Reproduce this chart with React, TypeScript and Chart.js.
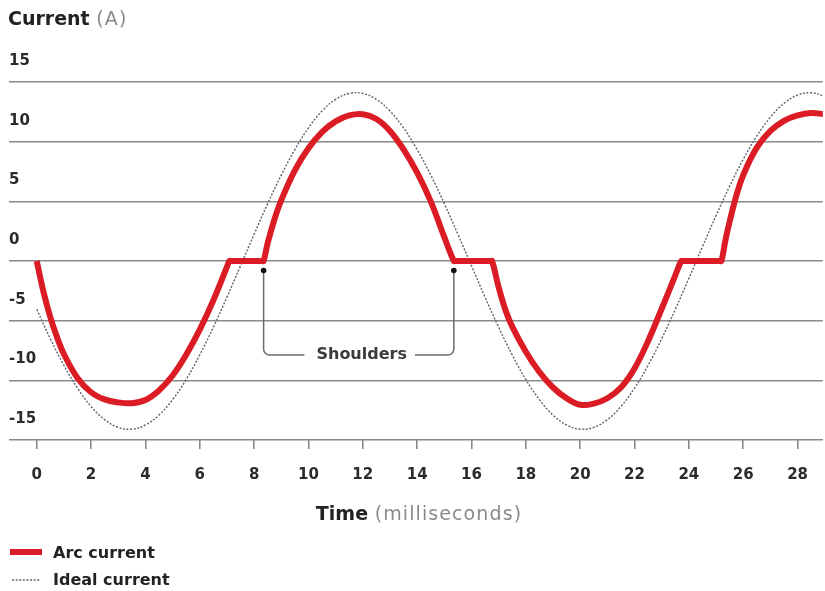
import React, { useEffect, useRef } from 'react';
import { Chart, registerables } from 'chart.js';

Chart.register(...registerables);

// ---------- data ----------
const X_TICKS = [0, 2, 4, 6, 8, 10, 12, 14, 16, 18, 20, 22, 24, 26, 28];
const Y_TICKS = [-15, -10, -5, 0, 5, 10, 15];

// Arc current (A) vs time (ms)
const ARC_T = [
  0, 0.25, 0.5, 0.75, 1.0, 1.5, 2.0, 2.5, 3.0, 3.5, 4.0, 4.5, 5.0, 5.5, 6.0, 6.5, 7.0, 7.09, 7.15,
  8.29, 8.35, 8.5, 8.75, 9.0, 9.5, 10.0, 10.5, 11.0, 11.5, 12.0, 12.5, 13.0, 13.5, 14.0, 14.5, 15.0, 15.35, 15.41,
  16.7, 16.76, 17.0, 17.25, 17.5, 18.0, 18.5, 19.0, 19.5, 20.0, 20.5, 21.0, 21.5, 22.0, 22.5, 23.0, 23.5, 23.72, 23.78,
  25.14, 25.2, 25.35, 25.5, 25.75, 26.0, 26.5, 27.0, 27.5, 28.0, 28.5, 29.0,
];
const ARC_I = [
  0, -2.6, -4.7, -6.4, -7.8, -9.8, -11.0, -11.6, -11.85, -11.92, -11.65, -10.85, -9.6, -7.85, -5.75, -3.3, -0.5, 0, 0,
  0, 0, 1.5, 3.5, 5.1, 7.6, 9.45, 10.8, 11.7, 12.2, 12.3, 11.9, 10.9, 9.35, 7.4, 5.0, 2.0, 0, 0,
  0, 0, -2.2, -4.1, -5.5, -7.6, -9.3, -10.6, -11.5, -12.05, -11.95, -11.5, -10.6, -9.0, -6.7, -4.0, -1.2, 0, 0,
  0, 0, 1.8, 3.3, 5.5, 7.2, 9.5, 10.9, 11.75, 12.2, 12.4, 12.3,
];

// Ideal current (A) vs time (ms)
const IDEAL_T = [
  0, 0.5, 1, 1.5, 2, 2.5, 3, 3.5, 4, 4.5, 5, 5.5, 6, 6.5, 7, 7.5, 8, 8.5, 9, 9.5,
  10, 10.5, 11, 11.5, 12, 12.5, 13, 13.5, 14, 14.5, 15, 15.5, 16, 16.5, 17, 17.5, 18, 18.5, 19, 19.5,
  20, 20.5, 21, 21.5, 22, 22.5, 23, 23.5, 24, 24.5, 25, 25.5, 26, 26.5, 27, 27.5, 28, 28.5, 29,
];
const IDEAL_I = [
  -4.05, -6.51, -8.74, -10.65, -12.19, -13.3, -13.94, -14.09, -13.74, -12.91, -11.62, -9.93, -7.87, -5.55, -3.03, -0.4, 2.24, 4.81, 7.2, 9.34,
  11.15, 12.57, 13.54, 14.04, 14.04, 13.54, 12.57, 11.15, 9.34, 7.2, 4.81, 2.24, -0.4, -3.03, -5.55, -7.87, -9.93, -11.62, -12.91, -13.74,
  -14.09, -13.94, -13.3, -12.19, -10.65, -8.74, -6.51, -4.05, -1.46, 1.19, 3.8, 6.27, 8.52, 10.47, 12.05, 13.21, 13.9, 14.1, 13.8,
];

// Shoulder corners marked by the annotation (ms)
const SHOULDER_MARKS = [8.35, 15.35];

const SERIES_NAMES = ['Arc current', 'Ideal current'];
const TITLE_MAIN = 'Current';
const TITLE_UNIT = '(A)';
const XTITLE_MAIN = 'Time';
const XTITLE_UNIT = '(milliseconds)';
const ANNOTATION_TEXT = 'Shoulders';

// ---------- styles ----------
const FONT = '"DejaVu Sans", "Open Sans", sans-serif';
const RED = '#dc1c24';
const IDEAL_COLOR = '#5e6370';
const GRID = '#8a8a8a';
const TEXT_DARK = '#222222';
const TEXT_GRAY = '#8a8a8a';

const overlayPlugin = {
  id: 'overlayText',
  afterDatasetsDraw(chart: any) {
    const { ctx, scales } = chart;
    const xs = scales.x;
    const ys = scales.y;
    const xa = xs.getPixelForValue(SHOULDER_MARKS[0]);
    const xb = xs.getPixelForValue(SHOULDER_MARKS[1]);
    const zero = ys.getPixelForValue(0);
    const dotY = zero + 9.5;
    const lineY = zero + 94;
    const r = 6;

    ctx.save();
    ctx.font = `bold 16px ${FONT}`;
    const tw = ctx.measureText(ANNOTATION_TEXT).width;
    const cx = (xa + xb) / 2 + 3;
    const tl = cx - tw / 2;
    const tr = cx + tw / 2;

    ctx.strokeStyle = '#6a6a6a';
    ctx.lineWidth = 1.5;
    ctx.beginPath();
    ctx.moveTo(xa, dotY);
    ctx.lineTo(xa, lineY - r);
    ctx.arcTo(xa, lineY, xa + r, lineY, r);
    ctx.lineTo(tl - 12, lineY);
    ctx.moveTo(xb, dotY);
    ctx.lineTo(xb, lineY - r);
    ctx.arcTo(xb, lineY, xb - r, lineY, r);
    ctx.lineTo(tr + 8, lineY);
    ctx.stroke();

    ctx.fillStyle = '#111111';
    [xa, xb].forEach((px) => {
      ctx.beginPath();
      ctx.arc(px, dotY, 2.8, 0, Math.PI * 2);
      ctx.fill();
    });

    ctx.fillStyle = '#3a3a3a';
    ctx.textBaseline = 'middle';
    ctx.textAlign = 'left';
    ctx.fillText(ANNOTATION_TEXT, tl, lineY);
    ctx.restore();
  },
  afterDraw(chart: any) {
    const { ctx } = chart;
    ctx.save();
    ctx.textBaseline = 'alphabetic';
    ctx.textAlign = 'left';

    const drawPair = (main: string, unit: string, x: number, y: number, center: boolean) => {
      ctx.font = `bold 19px ${FONT}`;
      (ctx as any).letterSpacing = '0px';
      const w1 = ctx.measureText(main + ' ').width;
      ctx.font = `19px ${FONT}`;
      (ctx as any).letterSpacing = '1.1px';
      const w2 = ctx.measureText(unit).width;
      const start = center ? x - (w1 + w2) / 2 : x;
      ctx.font = `bold 19px ${FONT}`;
      (ctx as any).letterSpacing = '0px';
      ctx.fillStyle = TEXT_DARK;
      ctx.fillText(main, start, y);
      ctx.font = `19px ${FONT}`;
      (ctx as any).letterSpacing = '1.1px';
      ctx.fillStyle = TEXT_GRAY;
      ctx.fillText(unit, start + w1, y);
      (ctx as any).letterSpacing = '0px';
    };

    drawPair(TITLE_MAIN, TITLE_UNIT, 8, 25, false);
    drawPair(XTITLE_MAIN, XTITLE_UNIT, 419, 520, true);

    // legend
    ctx.strokeStyle = RED;
    ctx.lineWidth = 6;
    ctx.lineCap = 'butt';
    ctx.beginPath();
    ctx.moveTo(10, 552);
    ctx.lineTo(42, 552);
    ctx.stroke();

    ctx.strokeStyle = IDEAL_COLOR;
    ctx.lineWidth = 1.4;
    ctx.setLineDash([2, 1.6]);
    ctx.beginPath();
    ctx.moveTo(12, 580);
    ctx.lineTo(40, 580);
    ctx.stroke();
    ctx.setLineDash([]);

    ctx.font = `bold 16px ${FONT}`;
    ctx.fillStyle = TEXT_DARK;
    ctx.fillText(SERIES_NAMES[0], 53, 558);
    ctx.fillText(SERIES_NAMES[1], 53, 585);
    ctx.restore();
  },
};

export default function App() {
  const canvasRef = useRef<HTMLCanvasElement | null>(null);

  useEffect(() => {
    const canvas = canvasRef.current;
    if (!canvas) return;
    const arcData = ARC_T.map((t, i) => ({ x: t, y: ARC_I[i] }));
    const idealData = IDEAL_T.map((t, i) => ({ x: t, y: IDEAL_I[i] }));
    const tickFont = { family: FONT, size: 15, weight: 'bold' as const };

    const chart = new Chart(canvas, {
      type: 'line',
      data: {
        datasets: [
          {
            label: SERIES_NAMES[0],
            data: arcData,
            borderColor: RED,
            borderWidth: 6,
            borderJoinStyle: 'round',
            tension: 0.4,
            pointRadius: 0,
            fill: false,
          },
          {
            label: SERIES_NAMES[1],
            data: idealData,
            borderColor: IDEAL_COLOR,
            borderWidth: 1.4,
            borderDash: [2, 1.6],
            tension: 0.4,
            pointRadius: 0,
            fill: false,
          },
        ],
      },
      options: {
        responsive: false,
        animation: false,
        devicePixelRatio: 1,
        layout: { padding: { left: 9, right: 0, top: 82, bottom: 90 } },
        plugins: {
          legend: { display: false },
          tooltip: { enabled: false },
          title: { display: false },
        },
        scales: {
          x: {
            type: 'linear',
            min: -1.02,
            max: 28.93,
            afterBuildTicks: (s: any) => {
              s.ticks = X_TICKS.map((v) => ({ value: v }));
            },
            grid: {
              drawOnChartArea: false,
              drawTicks: true,
              tickLength: 9,
              color: GRID,
              lineWidth: 1.6,
            },
            border: { display: false },
            ticks: {
              padding: 17,
              color: '#2b2b2b',
              font: tickFont,
              maxRotation: 0,
              autoSkip: false,
            },
          },
          y: {
            type: 'linear',
            min: -15,
            max: 15,
            afterBuildTicks: (s: any) => {
              s.ticks = Y_TICKS.map((v) => ({ value: v }));
            },
            grid: { color: GRID, lineWidth: 1.6, drawTicks: false },
            border: { display: false },
            ticks: {
              mirror: true,
              padding: 0,
              labelOffset: -21,
              color: '#2b2b2b',
              font: tickFont,
            },
          },
        },
      },
      plugins: [overlayPlugin],
    } as any);

    return () => chart.destroy();
  }, []);

  return (
    <div style={{ position: 'fixed', left: 0, top: 0, width: 825, height: 591, background: '#ffffff' }}>
      <canvas ref={canvasRef} width={825} height={591} style={{ display: 'block' }} />
    </div>
  );
}
